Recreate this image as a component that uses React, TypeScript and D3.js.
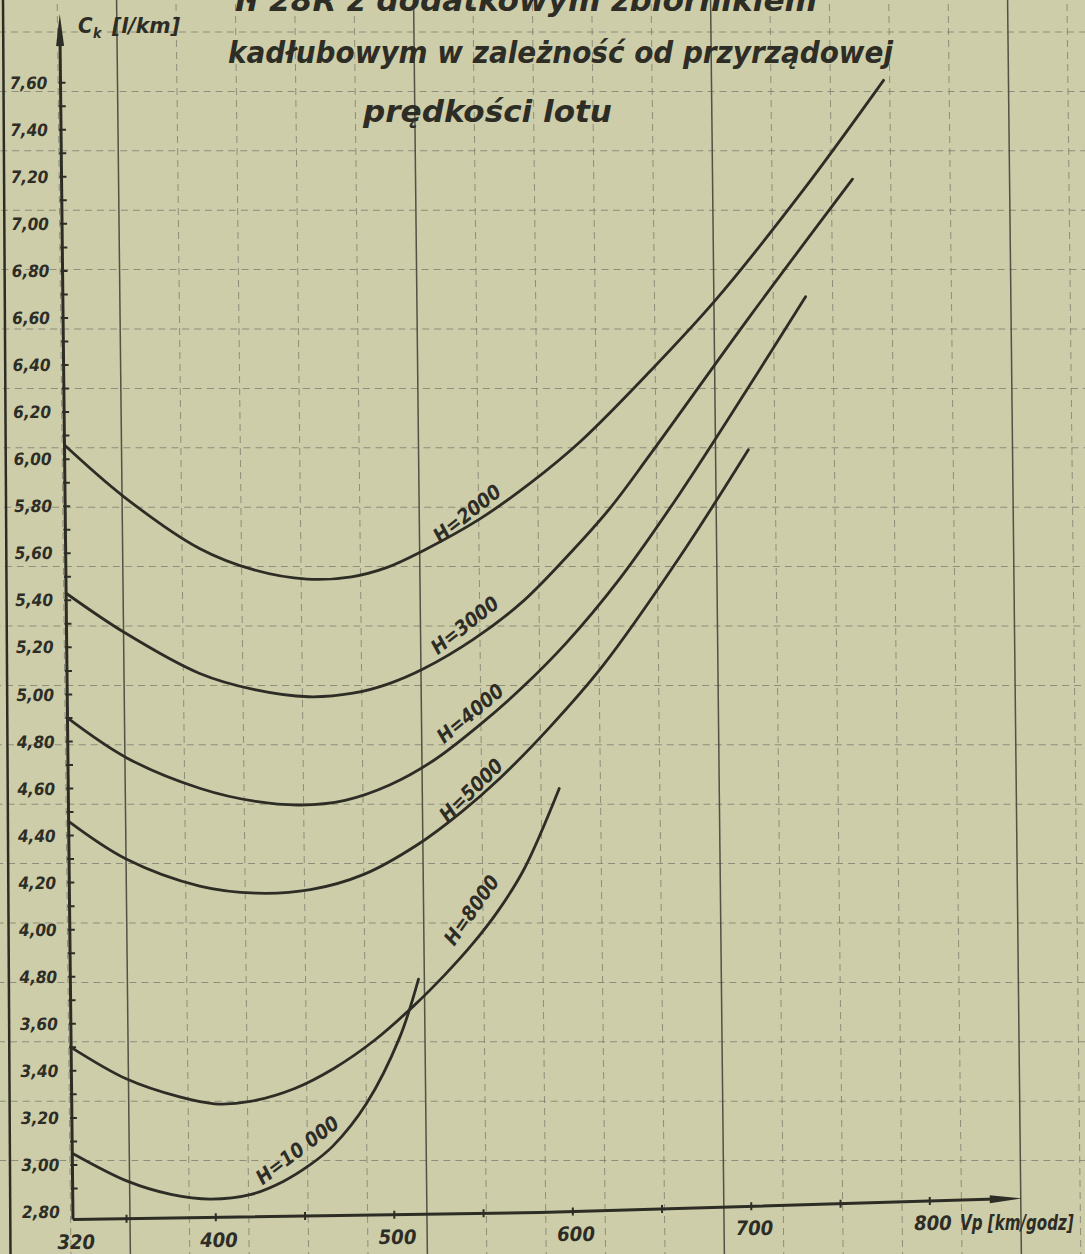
import React from "react";
import * as d3 from "d3";

// ---------- data ----------
const TITLE_LINES = [
  "Ił 28R z dodatkowym zbiornikiem",
  "kadłubowym w zależność od przyrządowej",
  "prędkości  lotu",
];
const Y_TITLE_MAIN = "C";
const Y_TITLE_SUB = "k";
const Y_TITLE_UNIT = "[l/km]";
const X_TITLE = "Vp [km/godz]";

const X_LABEL_VALUES = [320, 400, 500, 600, 700, 800];
const X_TICK_VALUES = [350, 400, 450, 500, 550, 600, 650, 700, 750, 800];
const Y_LABEL_VALUES = [
  2.8, 3.0, 3.2, 3.4, 3.6, 3.8, 4.0, 4.2, 4.4, 4.6, 4.8, 5.0, 5.2, 5.4, 5.6,
  5.8, 6.0, 6.2, 6.4, 6.6, 6.8, 7.0, 7.2, 7.4, 7.6,
];
const Y_LABEL_TEXT = [
  "2,80", "3,00", "3,20", "3,40", "3,60", "4,80", "4,00", "4,20", "4,40",
  "4,60", "4,80", "5,00", "5,20", "5,40", "5,60", "5,80", "6,00", "6,20",
  "6,40", "6,60", "6,80", "7,00", "7,20", "7,40", "7,60",
];

// series: [Vp km/h, Ck l/km]
const H2000 = [
  [320, 6.06], [353, 5.84], [395, 5.62], [425, 5.53], [455, 5.49], [480, 5.5],
  [500, 5.54], [520, 5.61], [552, 5.745], [581, 5.9], [609, 6.075], [648, 6.37],
  [686, 6.68], [735, 7.14], [781, 7.61],
];
const H3000 = [
  [320, 5.43], [352, 5.265], [394, 5.09], [425, 5.02], [455, 4.99], [480, 5.005],
  [500, 5.045], [520, 5.11], [548, 5.235], [575, 5.39], [600, 5.58], [625, 5.79],
  [648, 6.02], [705, 6.61], [763, 7.19],
];
const H4000 = [
  [320, 4.9], [353, 4.73], [394, 4.6], [425, 4.545], [450, 4.53], [475, 4.55],
  [500, 4.615], [525, 4.72], [550, 4.865], [575, 5.03], [600, 5.22], [630, 5.49],
  [664, 5.85], [703, 6.3], [736, 6.69],
];
const H5000 = [
  [320, 4.46], [352, 4.3], [393, 4.185], [425, 4.155], [455, 4.17], [485, 4.235],
  [515, 4.36], [540, 4.5], [562, 4.645], [590, 4.86], [620, 5.12], [664, 5.585],
  [703, 6.04],
];
const H8000 = [
  [320, 3.5], [351, 3.365], [380, 3.29], [400, 3.26], [420, 3.27], [445, 3.325],
  [467, 3.41], [490, 3.53], [512, 3.675], [530, 3.81], [545, 3.935], [560, 4.08],
  [575, 4.26], [595, 4.6],
];
const H10000 = [
  [320, 3.05], [351, 2.93], [375, 2.875], [397, 2.855], [420, 2.875], [438, 2.93],
  [453, 3.0], [466, 3.08], [485, 3.26], [504, 3.54], [515, 3.79],
];
const SERIES = [H2000, H3000, H4000, H5000, H8000, H10000];
const SERIES_LABELS = ["H=2000", "H=3000", "H=4000", "H=5000", "H=8000", "H=10 000"];
// label anchor in data units and angle
const LABEL_V = [545, 543, 545.5, 545.5, 545, 446];
const LABEL_C = [5.77, 5.295, 4.92, 4.594, 4.084, 3.064];
const LABEL_ANGLE = [-38, -38, -39.5, -44, -54.5, -37];

// ---------- layout ----------
const W = 1085;
const HGT = 1254;
const PAPER = "#cecdaa";
const INK = "#2d2d26";
const FONT = "'Liberation Sans Narrow', 'DejaVu Sans Condensed', sans-serif";
const AX_Y0 = 1220;
const SKEW = (Math.atan(0.011) * 180) / Math.PI;
const GRID = 59.4;

export default function App() {
  const xs = d3.scaleLinear().domain([320, 800]).range([73, 930]);
  const ys = d3.scaleLinear().domain([2.8, 7.6]).range([1212, 82.7]);
  const axisY = d3.scaleLinear().domain([73, 540, 1022]).range([1219.5, 1212.5, 1198.3]);
  const line = d3
    .line<number[]>()
    .x((d) => xs(d[0]))
    .y((d) => ys(d[1]))
    .curve(d3.curveCatmullRom.alpha(0.5));

  const x0 = xs(320);
  const vLines = d3.range(-1, 17).map((k) => ({ x: 130 + k * GRID, major: k % 5 === 0 }));
  const hLines = d3.range(1, 21).map((k) => AX_Y0 - k * GRID);
  const yMinor = d3.range(29, 77).map((i) => i / 10);

  const xAxisPath = `M${x0},${axisY(x0)} L540,${axisY(540)} L996,${axisY(996)}`;

  return (
    <svg
      width={W}
      height={HGT}
      style={{ position: "absolute", left: 0, top: 0, background: PAPER }}
    >
      <rect x={0} y={0} width={W} height={HGT} fill={PAPER} />
      <g transform={`translate(0,${AX_Y0}) skewX(${SKEW}) translate(0,${-AX_Y0})`}>
        {/* graph paper */}
        {hLines.map((y, i) => (
          <line key={"h" + i} x1={0} x2={W + 20} y1={y} y2={y} stroke="#7a7a6b" strokeWidth={1} strokeDasharray="7 5" opacity={0.75} />
        ))}
        {vLines.map((l, i) => (
          <line
            key={"v" + i}
            x1={l.x}
            x2={l.x}
            y1={-20}
            y2={HGT}
            stroke={l.major ? "#45453c" : "#7a7a6b"}
            strokeWidth={l.major ? 1.5 : 1}
            strokeDasharray={l.major ? undefined : "7 5"}
            opacity={l.major ? 0.9 : 0.75}
          />
        ))}

        {/* y axis */}
        <line x1={x0} x2={x0} y1={axisY(x0)} y2={40} stroke={INK} strokeWidth={3} />
        <path d={`M${x0},14 L${x0 - 4},46 L${x0 + 4},46 Z`} fill={INK} />
        {yMinor.map((v, i) => (
          <line key={"yt" + i} x1={x0 - 2} x2={x0 + 5} y1={ys(v)} y2={ys(v)} stroke={INK} strokeWidth={2} />
        ))}
        {Y_LABEL_VALUES.map((v, i) => (
          <text
            key={"yl" + i}
            x={41}
            y={ys(v)}
            dy="0.36em"
            textAnchor="middle"
            fontFamily={FONT}
            fontWeight="bold"
            fontStyle="italic"
            fontSize={17}
            fill={INK}
          >
            {Y_LABEL_TEXT[i]}
          </text>
        ))}

        {/* x axis */}
        <path d={xAxisPath} fill="none" stroke={INK} strokeWidth={3} />
        <path d={`M1022,${axisY(1022)} L990,${axisY(990) - 4} L990,${axisY(990) + 4} Z`} fill={INK} />
        {X_TICK_VALUES.map((v, i) => (
          <line key={"xt" + i} x1={xs(v)} x2={xs(v)} y1={axisY(xs(v)) - 4} y2={axisY(xs(v)) + 4} stroke={INK} strokeWidth={2} />
        ))}
        {X_LABEL_VALUES.map((v, i) => (
          <text
            key={"xl" + i}
            x={xs(v) + 3}
            y={axisY(xs(v)) + 22}
            dy="0.36em"
            textAnchor="middle"
            fontFamily={FONT}
            fontWeight="bold"
            fontStyle="italic"
            fontSize={20}
            fill={INK}
          >
            {v}
          </text>
        ))}

        {/* curves */}
        {SERIES.map((s, i) => (
          <path key={"s" + i} d={line(s) || ""} fill="none" stroke={INK} strokeWidth={2.8} strokeLinecap="round" />
        ))}
        {SERIES_LABELS.map((t, i) => (
          <text
            key={"sl" + i}
            transform={`translate(${xs(LABEL_V[i])},${ys(LABEL_C[i])}) rotate(${LABEL_ANGLE[i]})`}
            textAnchor="middle"
            dy="0.36em"
            fontFamily={FONT}
            fontWeight="bold"
            fontStyle="italic"
            fontSize={20}
            fill={INK}
          >
            {t}
          </text>
        ))}
      </g>

      {/* x axis title */}
      <text transform="translate(960,1230) scale(0.8,1)" fontFamily={FONT} fontWeight="bold" fontStyle="italic" fontSize={21} fill={INK}>
        {X_TITLE}
      </text>

      {/* left page border */}
      <line x1={3} x2={10.5} y1={0} y2={HGT} stroke={INK} strokeWidth={2.5} />

      {/* y axis title */}
      <text x={78} y={33} fontFamily={FONT} fontStyle="italic" fontWeight="bold" fontSize={22} fill={INK}>
        {Y_TITLE_MAIN}
      </text>
      <text x={93} y={38} fontFamily={FONT} fontStyle="italic" fontWeight="bold" fontSize={14} fill={INK}>
        {Y_TITLE_SUB}
      </text>
      <text x={112} y={33} textLength={68} lengthAdjust="spacingAndGlyphs" fontFamily={FONT} fontStyle="italic" fontWeight="bold" fontSize={22} fill={INK}>
        {Y_TITLE_UNIT}
      </text>

      {/* title */}
      <text x={235} y={11} textLength={582} lengthAdjust="spacingAndGlyphs" fontFamily={FONT} fontWeight="bold" fontStyle="italic" fontSize={31} fill={INK}>
        {TITLE_LINES[0]}
      </text>
      <text x={228} y={63} textLength={665} lengthAdjust="spacingAndGlyphs" fontFamily={FONT} fontWeight="bold" fontStyle="italic" fontSize={31} fill={INK}>
        {TITLE_LINES[1]}
      </text>
      <text x={363} y={122} textLength={249} lengthAdjust="spacingAndGlyphs" fontFamily={FONT} fontWeight="bold" fontStyle="italic" fontSize={31} fill={INK}>
        {TITLE_LINES[2]}
      </text>
    </svg>
  );
}
